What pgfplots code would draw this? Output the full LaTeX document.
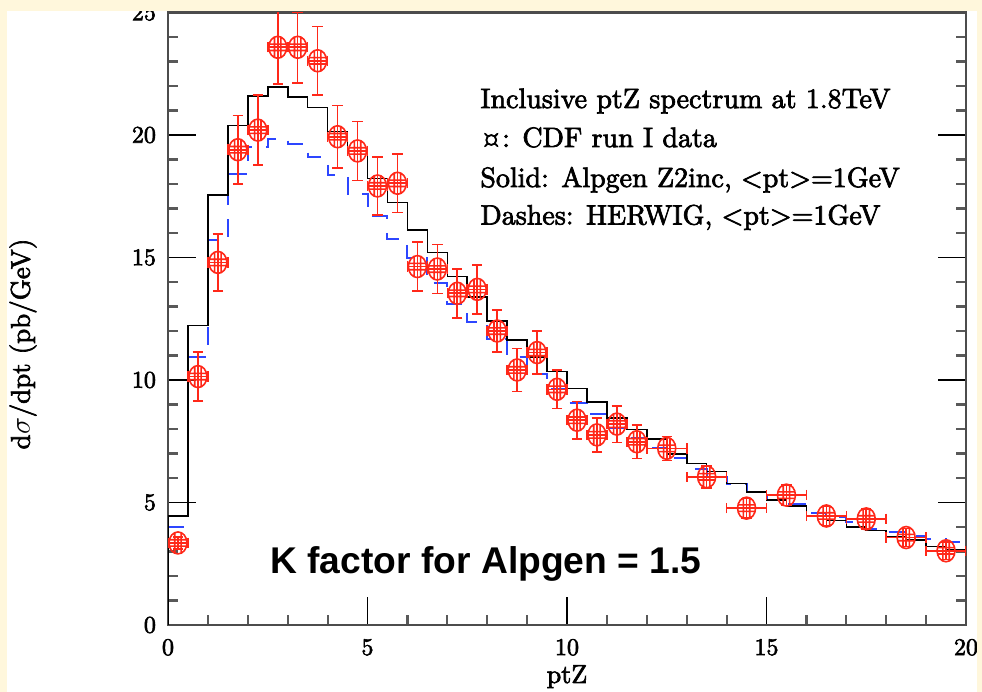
\documentclass[border=0pt]{standalone}
\usepackage{pgfplots}
\usepackage{pgfplotstable}
\pgfplotsset{compat=1.18}
\usepackage{fontspec}
\newfontfamily\arialfont{Liberation Sans}
\newfontfamily\tdfont[FakeBold=2.5]{lmroman10-regular.otf}
\definecolor{cream}{RGB}{255,247,220}
\definecolor{myred}{RGB}{255,40,25}
\definecolor{myblue}{RGB}{45,70,255}

\pgfdeclareplotmark{cdf}{%
  \pgfpathellipse{\pgfpointorigin}{\pgfpoint{4.5pt}{0pt}}{\pgfpoint{0pt}{5.5pt}}%
  \pgfpathmoveto{\pgfpoint{-1.6pt}{-5.2pt}}\pgfpathlineto{\pgfpoint{-1.6pt}{5.2pt}}%
  \pgfpathmoveto{\pgfpoint{1.6pt}{-5.2pt}}\pgfpathlineto{\pgfpoint{1.6pt}{5.2pt}}%
  \pgfpathmoveto{\pgfpoint{-4.3pt}{-1.6pt}}\pgfpathlineto{\pgfpoint{4.3pt}{-1.6pt}}%
  \pgfpathmoveto{\pgfpoint{-4.3pt}{1.6pt}}\pgfpathlineto{\pgfpoint{4.3pt}{1.6pt}}%
  \pgfusepathqstroke}

\pgfplotstableread{
x y
0 0
0 4.45
0.5 12.22
1.0 17.55
1.5 20.38
2.0 21.59
2.5 21.95
3.0 21.54
3.5 21.13
4.0 20.14
4.5 19.32
5.0 18.23
5.5 17.24
6.0 16.12
6.5 15.21
7.0 14.22
7.5 13.40
8.0 12.42
8.5 11.63
9.0 10.93
9.5 10.34
10.0 9.66
10.5 9.10
11.0 8.44
11.5 7.98
12.0 7.58
12.5 6.98
13.0 6.60
13.5 6.26
14.0 5.78
14.5 5.44
15.0 5.10
15.5 4.85
16.0 4.45
16.5 4.26
17.0 4.01
17.5 3.85
18.0 3.58
18.5 3.47
19.0 3.20
19.5 3.06
20.0 3.06
}\alpgen

\pgfplotstableread{
x y
0 0
0 4.00
0.5 10.95
1.0 15.70
1.5 18.40
2.0 19.50
2.5 19.85
3.0 19.65
3.5 19.10
4.0 18.37
4.5 17.59
5.0 16.68
5.5 15.74
6.0 14.97
6.5 13.97
7.0 13.10
7.5 12.38
8.0 11.66
8.5 10.95
9.0 10.24
9.5 9.62
10.0 9.07
10.5 8.60
11.0 8.05
11.5 7.65
12.0 7.21
12.5 6.80
13.0 6.35
13.5 6.05
14.0 5.77
14.5 5.44
15.0 5.10
15.5 4.94
16.0 4.56
16.5 4.40
17.0 4.22
17.5 3.90
18.0 3.81
18.5 3.63
19.0 3.50
19.5 3.38
20.0 3.38
}\herwig

\pgfplotstableread{
x y ex ey
0.25 3.35 0.25 0.25
0.75 10.14 0.25 1.00
1.25 14.80 0.25 1.17
1.75 19.40 0.25 1.40
2.25 20.20 0.25 1.43
2.75 23.58 0.25 1.50
3.25 23.58 0.25 1.45
3.75 23.03 0.25 1.40
4.25 19.93 0.25 1.28
4.75 19.35 0.25 1.20
5.25 17.92 0.25 1.18
5.75 18.03 0.25 1.20
6.25 14.63 0.25 1.00
6.75 14.53 0.25 1.00
7.25 13.54 0.25 1.00
7.75 13.70 0.25 1.00
8.25 12.00 0.25 0.85
8.75 10.41 0.25 0.88
9.25 11.12 0.25 0.87
9.75 9.62 0.25 0.78
10.25 8.36 0.25 0.76
10.75 7.76 0.25 0.70
11.25 8.20 0.25 0.75
11.75 7.48 0.25 0.68
12.5 7.21 0.5 0.49
13.5 6.05 0.5 0.45
14.5 4.77 0.5 0.40
15.5 5.30 0.5 0.42
16.5 4.45 0.5 0.39
17.5 4.33 0.5 0.40
18.5 3.57 0.5 0.37
19.5 3.03 0.5 0.36
}\cdfdata

\begin{document}
\begin{tikzpicture}
\fill[cream] (0,0) rectangle (491pt,346pt);
\fill[white] (3.5pt,0) rectangle (488.5pt,340.5pt);
\begin{axis}[
  at={(84pt,33.5pt)}, anchor=south west,
  scale only axis, width=399pt, height=306.25pt,
  xmin=0, xmax=20, ymin=0, ymax=25,
  xtick={0,5,...,20}, ytick={0,5,...,25},
  minor x tick num=4, minor y tick num=4,
  xtick pos=left, ytick pos=both, yticklabel pos=left,
  tick align=inside,
  major tick length=14pt, minor tick length=5pt,
  major tick style={black, line width=0.6pt},
  minor tick style={black!65, line width=1.1pt},
  axis line style={black!70, line width=1.3pt},
  /pgf/number format/assume math mode=true,
  tick label style={font=\tdfont\fontsize{12}{14}\selectfont},
  yticklabel style={xshift=-2.5pt},
  xticklabel style={yshift=-3.5pt},
]
\addplot[const plot, myblue, line width=1pt, dash pattern=on 9pt off 7pt] table[x=x,y=y] {\herwig};
\addplot[const plot, black, line width=0.8pt] table[x=x,y=y] {\alpgen};
\addplot[only marks, mark=cdf, myred, line width=0.8pt,
  error bars/x dir=both, error bars/x explicit,
  error bars/y dir=both, error bars/y explicit,
  error bars/error bar style={myred, line width=0.8pt, solid},
  error bars/error mark options={myred, rotate=90, mark size=2.6pt, line width=0.8pt}]
  table[x=x, y=y, x error=ex, y error=ey] {\cdfdata};
\end{axis}
\begin{scope}[every node/.style={anchor=base west, font=\tdfont\fontsize{14}{16}\selectfont, inner sep=0}]
\node at (240pt,292pt) {Inclusive ptZ spectrum at 1.8TeV};
\node at (240pt,272.5pt) {¤: CDF run I data};
\node at (240pt,252.5pt) {Solid: Alpgen Z2inc, <pt>=1GeV};
\node at (240pt,233.75pt) {Dashes: HERWIG, <pt>=1GeV};
\end{scope}
\node[anchor=base west, font=\arialfont\bfseries\fontsize{18.6}{21}\selectfont, inner sep=0] at (135pt,59.35pt) {K factor for Alpgen = 1.5};
\node[anchor=base, font=\tdfont\fontsize{13}{15}\selectfont, inner sep=0] at (283.5pt,4.5pt) {ptZ};
\node[rotate=90, anchor=center, font=\tdfont\fontsize{13.5}{15}\selectfont, inner sep=0] at (11.5pt,174pt) {d$\sigma$/dpt (pb/GeV)};
\fill[cream] (0,340.5pt) rectangle (491pt,346pt);
\fill[cream] (0,0) rectangle (3.5pt,346pt);
\fill[cream] (488.5pt,0) rectangle (491pt,346pt);
\pgfresetboundingbox
\useasboundingbox (0,0) rectangle (491pt,346pt);
\end{tikzpicture}
\end{document}
